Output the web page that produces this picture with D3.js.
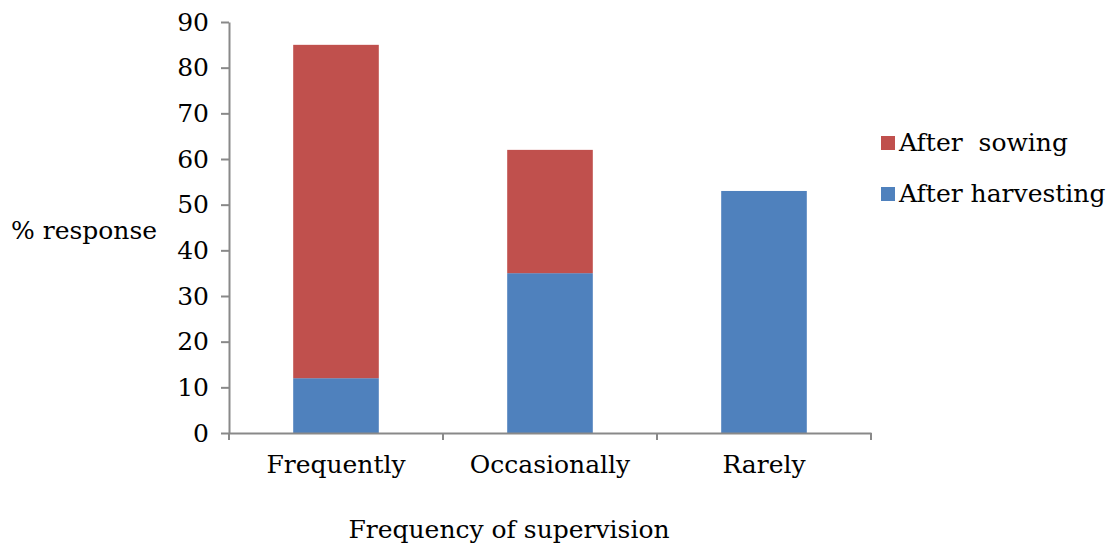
<!DOCTYPE html>
<html>
<head>
<meta charset="utf-8">
<script src="https://cdn.jsdelivr.net/npm/d3@7"></script>
<style>
  body { margin: 0; background: #fff; }
  text { font-family: "DejaVu Serif", serif; fill: #000; }
</style>
</head>
<body>
<div id="chart"></div>
<script>
var w = 1114;
var h = 544;

var categories = ["Frequently", "Occasionally", "Rarely"];
var afterHarvesting = [12, 35, 53];
var afterSowing = [73, 27, 0];
var seriesNames = ["After harvesting", "After  sowing"];
var seriesColors = ["#4F81BD", "#C0504D"];
var yTicks = [0, 10, 20, 30, 40, 50, 60, 70, 80, 90];

var plotLeft = 229, plotRight = 871, plotTop = 22, plotBottom = 433;
var fontSize = "25px";

var xScale = d3.scaleBand()
  .domain(categories)
  .range([plotLeft, plotRight])
  .paddingInner(0)
  .paddingOuter(0);

var yScale = d3.scaleLinear()
  .domain([0, 90])
  .range([plotBottom, plotTop]);

var barW = xScale.bandwidth() * 0.4;

var rows = categories.map(function (c, i) {
  return { cat: c, "After harvesting": afterHarvesting[i], "After  sowing": afterSowing[i] };
});
var stacked = d3.stack().keys(seriesNames)(rows);

var svg = d3.select("#chart").append("svg").attr("width", w).attr("height", h);

svg.selectAll("g.series")
  .data(stacked)
  .enter()
  .append("g")
  .attr("class", "series")
  .attr("fill", function (d, i) { return seriesColors[i]; })
  .selectAll("rect")
  .data(function (d) { return d; })
  .enter()
  .append("rect")
  .attr("x", function (d) { return xScale(d.data.cat) + (xScale.bandwidth() - barW) / 2; })
  .attr("y", function (d) { return yScale(d[1]); })
  .attr("width", barW)
  .attr("height", function (d) { return yScale(d[0]) - yScale(d[1]); });

// y axis
var yAxis = svg.append("g")
  .attr("transform", "translate(" + plotLeft + ",0)")
  .call(d3.axisLeft(yScale).tickValues(yTicks).tickSize(8).tickPadding(12).tickSizeOuter(0));
yAxis.select(".domain").attr("stroke", "#898989").attr("stroke-width", 2);
yAxis.selectAll(".tick line").attr("stroke", "#898989").attr("stroke-width", 2);
yAxis.selectAll(".tick text").style("font-size", fontSize).style("font-family", "DejaVu Serif").attr("fill", "#000");

// x axis
var xAxis = svg.append("g")
  .attr("transform", "translate(0," + plotBottom + ")")
  .call(d3.axisBottom(xScale).tickSize(0).tickPadding(22));
xAxis.select(".domain").attr("stroke", "#898989").attr("stroke-width", 2);
xAxis.selectAll(".tick text").style("font-size", fontSize).style("font-family", "DejaVu Serif").attr("fill", "#000");

var boundaries = [plotLeft].concat(categories.map(function (c) { return xScale(c) + xScale.bandwidth(); }));
svg.selectAll("line.xtick")
  .data(boundaries)
  .enter()
  .append("line")
  .attr("class", "xtick")
  .attr("x1", function (d) { return d; })
  .attr("x2", function (d) { return d; })
  .attr("y1", plotBottom)
  .attr("y2", plotBottom + 7)
  .attr("stroke", "#898989")
  .attr("stroke-width", 2);

// axis titles
svg.append("text")
  .attr("x", 11)
  .attr("y", 239)
  .style("font-size", fontSize)
  .text("% response");

svg.append("text")
  .attr("x", 509)
  .attr("y", 538)
  .attr("text-anchor", "middle")
  .style("font-size", fontSize)
  .text("Frequency of supervision");

// legend
var legendItems = [
  { name: "After  sowing", color: seriesColors[1], y: 143 },
  { name: "After harvesting", color: seriesColors[0], y: 194 }
];
var legend = svg.selectAll("g.legend")
  .data(legendItems)
  .enter()
  .append("g")
  .attr("class", "legend")
  .attr("transform", function (d) { return "translate(881," + d.y + ")"; });
legend.append("rect")
  .attr("x", 0).attr("y", -7)
  .attr("width", 14).attr("height", 14)
  .attr("fill", function (d) { return d.color; });
legend.append("text")
  .attr("x", 18)
  .attr("y", 8)
  .style("font-size", fontSize)
  .style("white-space", "pre")
  .attr("xml:space", "preserve")
  .text(function (d) { return d.name; });
</script>
</body>
</html>
